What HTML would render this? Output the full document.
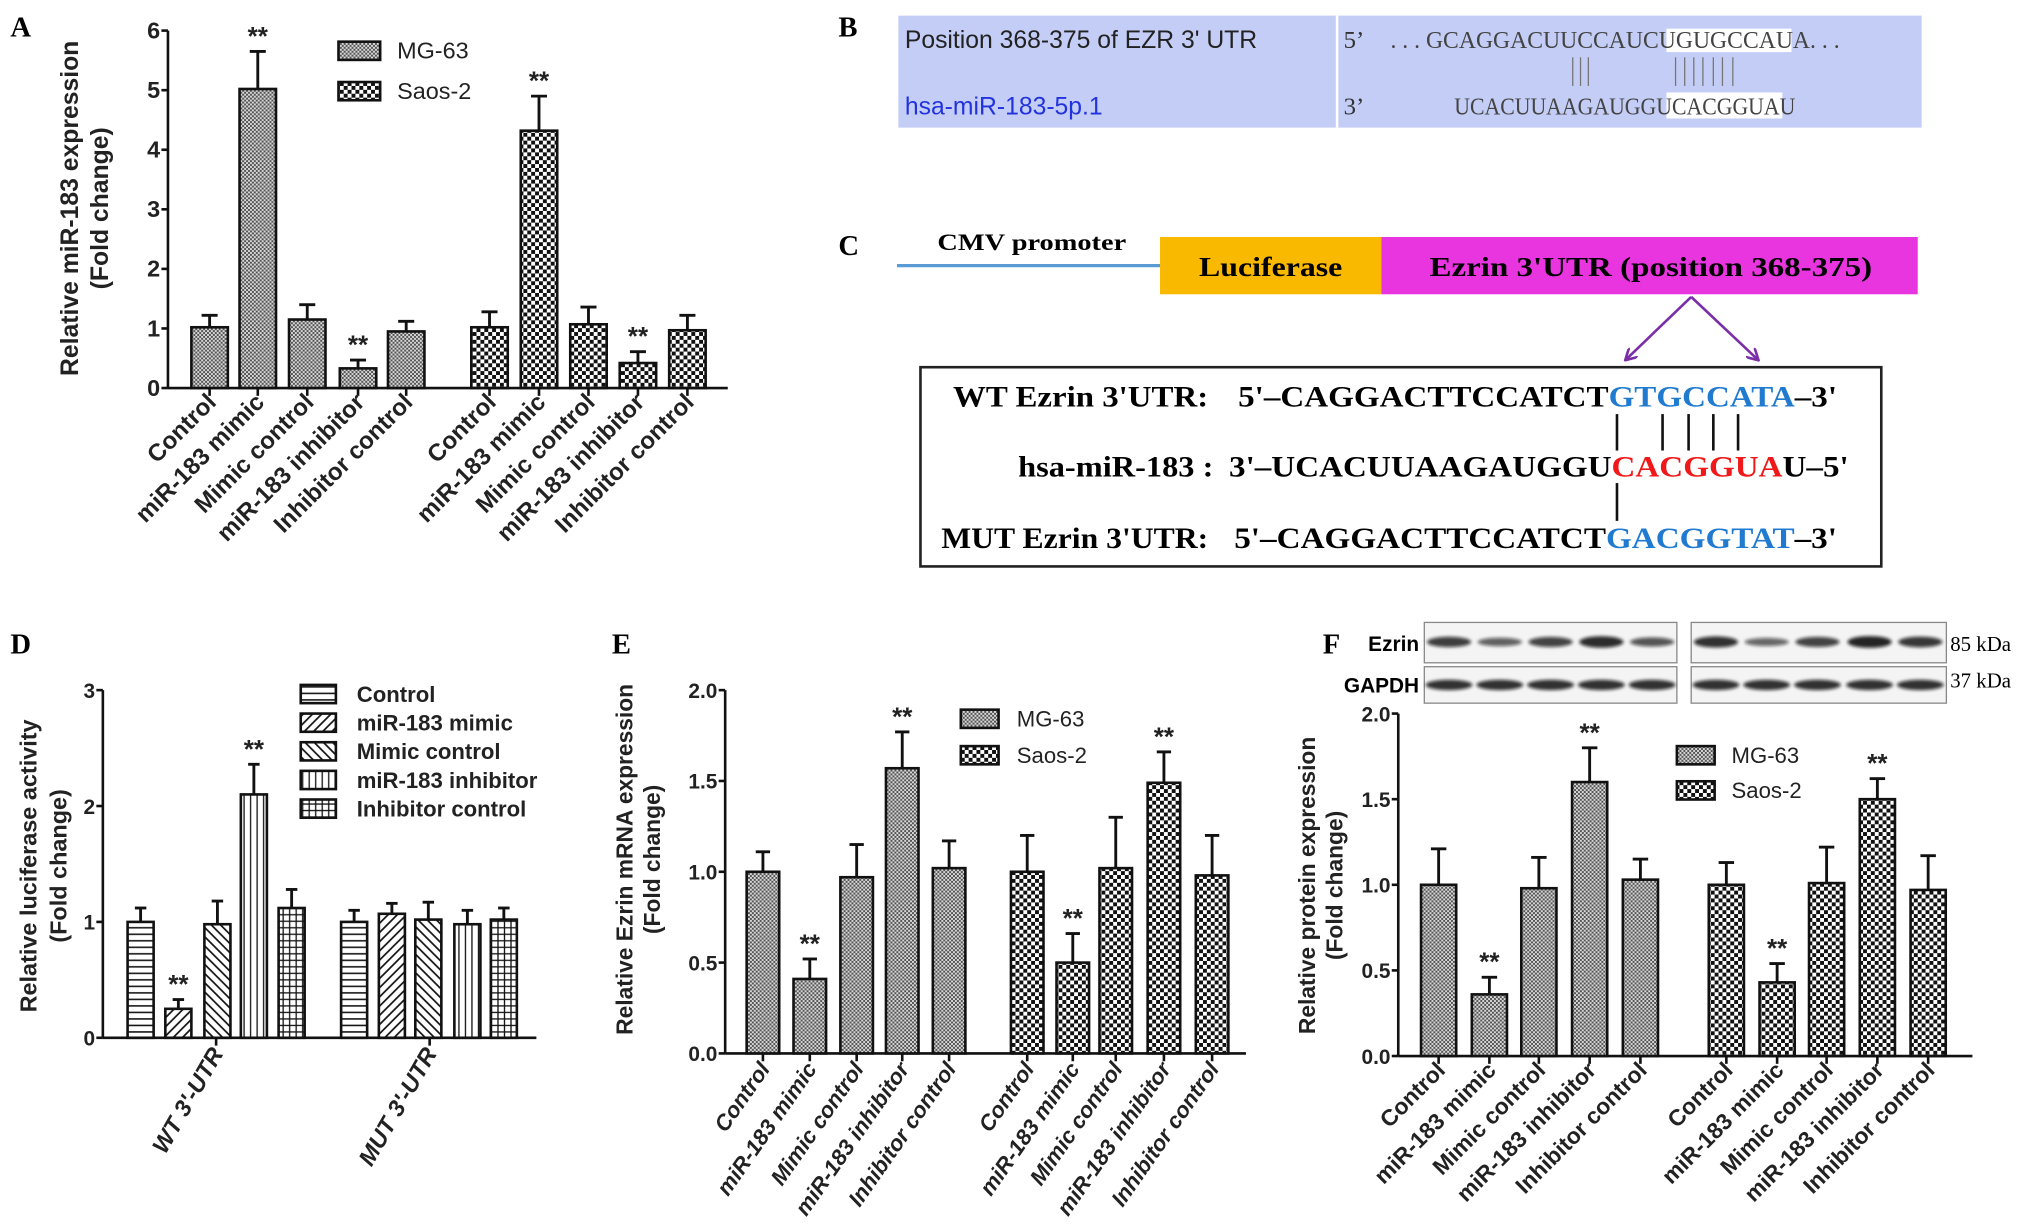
<!DOCTYPE html>
<html><head><meta charset="utf-8">
<style>
html,body{margin:0;padding:0;background:#fff;}
svg{display:block;}
text{font-family:"Liberation Sans",Arial,sans-serif;}
text.serif,.serif text{font-family:"Liberation Serif","Times New Roman",serif;}
</style></head>
<body>
<svg id="fig" width="2031" height="1224" viewBox="0 0 1560 940" preserveAspectRatio="none" xmlns="http://www.w3.org/2000/svg">
<defs>
<pattern id="pMG" width="3" height="3" patternUnits="userSpaceOnUse"><rect width="3" height="3" fill="#d6d6d6"/><rect width="1.5" height="1.5" fill="#555"/><rect x="1.5" y="1.5" width="1.5" height="1.5" fill="#555"/></pattern>
<pattern id="pSaos" width="6" height="6" patternUnits="userSpaceOnUse"><rect width="6" height="6" fill="#fff"/><rect width="3" height="3" fill="#111"/><rect x="3" y="3" width="3" height="3" fill="#111"/></pattern>
<pattern id="pH" width="5" height="5" patternUnits="userSpaceOnUse"><rect width="5" height="5" fill="#fff"/><line x1="0" y1="2.5" x2="5" y2="2.5" stroke="#111" stroke-width="1.2"/></pattern>
<pattern id="pD1" width="5" height="5" patternUnits="userSpaceOnUse" patternTransform="rotate(45)"><rect width="5" height="5" fill="#fff"/><line x1="2.5" y1="0" x2="2.5" y2="5" stroke="#111" stroke-width="1.3"/></pattern>
<pattern id="pD2" width="5" height="5" patternUnits="userSpaceOnUse" patternTransform="rotate(-45)"><rect width="5" height="5" fill="#fff"/><line x1="2.5" y1="0" x2="2.5" y2="5" stroke="#111" stroke-width="1.3"/></pattern>
<pattern id="pV" width="5" height="5" patternUnits="userSpaceOnUse"><rect width="5" height="5" fill="#fff"/><line x1="2.5" y1="0" x2="2.5" y2="5" stroke="#111" stroke-width="1"/></pattern>
<pattern id="pG" width="5" height="5" patternUnits="userSpaceOnUse"><rect width="5" height="5" fill="#fff"/><line x1="0" y1="2.5" x2="5" y2="2.5" stroke="#111" stroke-width="1"/><line x1="2.5" y1="0" x2="2.5" y2="5" stroke="#111" stroke-width="1"/></pattern>
<filter id="blur"><feGaussianBlur stdDeviation="1.2"/></filter>
<marker id="arr" markerWidth="10" markerHeight="10" refX="8" refY="5" orient="auto" markerUnits="userSpaceOnUse"><path d="M0,0 L9,5 L0,10" fill="none" stroke="#7a2fa8" stroke-width="2"/></marker>
</defs>

<text x="8" y="28" class="serif" font-weight="bold" font-size="22">A</text>
<text x="644" y="28" class="serif" font-weight="bold" font-size="22">B</text>
<text x="644" y="196" class="serif" font-weight="bold" font-size="22">C</text>
<text x="8" y="502" class="serif" font-weight="bold" font-size="22">D</text>
<text x="470" y="502" class="serif" font-weight="bold" font-size="22">E</text>
<text x="1016" y="502" class="serif" font-weight="bold" font-size="22">F</text>

<g>
<rect x="690" y="12" width="786" height="86" fill="#c3cdf6"/>
<line x1="1027" y1="12" x2="1027" y2="98" stroke="#fff" stroke-width="2"/>
<text x="695" y="37" font-size="19" fill="#222">Position 368-375 of EZR 3' UTR</text>
<text x="695" y="88" font-size="19" fill="#2233dd">hsa-miR-183-5p.1</text>
<rect x="1280" y="22" width="96" height="18" fill="#fff"/>
<rect x="1280" y="71" width="89" height="20" fill="#fff"/>
<text x="1032" y="37" class="serif" font-size="19" fill="#333">5’</text>
<text x="1068" y="37" class="serif" font-size="19" fill="#444" textLength="345" lengthAdjust="spacingAndGlyphs">. . . GCAGGACUUCCAUCUGUGCCAUA. . .</text>
<text x="1032" y="88" class="serif" font-size="19" fill="#333">3’</text>
<text x="1117" y="88" class="serif" font-size="19" fill="#444" textLength="262" lengthAdjust="spacingAndGlyphs">UCACUUAAGAUGGUCACGGUAU</text>
<g stroke="#777" stroke-width="1">
<line x1="1208" y1="44" x2="1208" y2="66"/><line x1="1214" y1="44" x2="1214" y2="66"/><line x1="1220" y1="44" x2="1220" y2="66"/>
<line x1="1287" y1="44" x2="1287" y2="66"/><line x1="1294" y1="44" x2="1294" y2="66"/><line x1="1301" y1="44" x2="1301" y2="66"/><line x1="1308" y1="44" x2="1308" y2="66"/><line x1="1316" y1="44" x2="1316" y2="66"/><line x1="1323" y1="44" x2="1323" y2="66"/><line x1="1331" y1="44" x2="1331" y2="66"/>
</g>
</g>

<g>
<line x1="689" y1="204" x2="891" y2="204" stroke="#5b9bd5" stroke-width="2.5"/>
<text x="720" y="192" class="serif" font-weight="bold" font-size="18" textLength="145" lengthAdjust="spacingAndGlyphs">CMV promoter</text>
<rect x="891" y="182" width="170" height="44" fill="#f8b900"/>
<text x="976" y="212" class="serif" font-weight="bold" font-size="21" text-anchor="middle" textLength="110" lengthAdjust="spacingAndGlyphs">Luciferase</text>
<rect x="1061" y="182" width="412" height="44" fill="#e935df"/>
<text x="1268" y="212" class="serif" font-weight="bold" font-size="21" text-anchor="middle" textLength="340" lengthAdjust="spacingAndGlyphs">Ezrin 3'UTR (position 368-375)</text>
<line x1="1299" y1="228" x2="1249" y2="276" stroke="#7a2fa8" stroke-width="2" marker-end="url(#arr)"/>
<line x1="1299" y1="228" x2="1350" y2="276" stroke="#7a2fa8" stroke-width="2" marker-end="url(#arr)"/>
<rect x="707" y="282" width="738" height="153" fill="#fff" stroke="#222" stroke-width="2"/>
<g class="serif" font-weight="bold" font-size="23">
<text x="732" y="312" textLength="196" lengthAdjust="spacingAndGlyphs">WT  Ezrin 3'UTR:</text>
<text x="951" y="312" textLength="460" lengthAdjust="spacingAndGlyphs">5'–CAGGACTTCCATCT<tspan fill="#1f7ad0">GTGCCATA</tspan>–3'</text>
<text x="782" y="366" textLength="150" lengthAdjust="spacingAndGlyphs">hsa-miR-183 :</text>
<text x="944" y="366" textLength="476" lengthAdjust="spacingAndGlyphs">3'–UCACUUAAGAUGGU<tspan fill="#f01818">CACGGUA</tspan>U–5'</text>
<text x="723" y="421" textLength="205" lengthAdjust="spacingAndGlyphs">MUT Ezrin 3'UTR:</text>
<text x="948" y="421" textLength="463" lengthAdjust="spacingAndGlyphs">5'–CAGGACTTCCATCT<tspan fill="#1f7ad0">GACGGTAT</tspan>–3'</text>
</g>
<g stroke="#111" stroke-width="2">
<line x1="1242" y1="318" x2="1242" y2="346"/><line x1="1277" y1="318" x2="1277" y2="346"/><line x1="1297" y1="318" x2="1297" y2="346"/><line x1="1316" y1="318" x2="1316" y2="346"/><line x1="1335" y1="318" x2="1335" y2="346"/>
<line x1="1242" y1="371" x2="1242" y2="400"/>
</g>
</g>

<g>
<rect x="1094" y="478" width="194" height="31" fill="#f4f4f4" stroke="#888"/>
<rect x="1299" y="478" width="196" height="31" fill="#f4f4f4" stroke="#888"/>
<rect x="1094" y="512" width="194" height="28" fill="#f4f4f4" stroke="#888"/>
<rect x="1299" y="512" width="196" height="28" fill="#f4f4f4" stroke="#888"/>
<g id="bands" filter="url(#blur)"></g>
<text x="1090" y="500" font-weight="bold" font-size="16" text-anchor="end">Ezrin</text>
<text x="1090" y="532" font-weight="bold" font-size="16" text-anchor="end">GAPDH</text>
<text x="1498" y="500" class="serif" font-size="16">85 kDa</text>
<text x="1498" y="528" class="serif" font-size="16">37 kDa</text>
</g>

<g id="charts"></g>
</svg>

<script>
// ===== Panel A data =====
const aCategories = ["Control","miR-183 mimic","Mimic control","miR-183 inhibitor","Inhibitor control"];
const aMG63 = [1.02, 5.02, 1.15, 0.33, 0.95];
const aMG63Err = [0.2, 0.63, 0.25, 0.14, 0.17];
const aSaos2 = [1.02, 4.32, 1.07, 0.42, 0.97];
const aSaos2Err = [0.26, 0.58, 0.29, 0.19, 0.25];
const aTicks = [0,1,2,3,4,5,6];
const aTickLabels = ["0","1","2","3","4","5","6"];
const aStars = [false,true,false,true,false];
// ===== Panel D data =====
const dGroups = ["WT 3'-UTR","MUT 3'-UTR"];
const dSeries = ["Control","miR-183 mimic","Mimic control","miR-183 inhibitor","Inhibitor control"];
const dWT = [1.0, 0.25, 0.98, 2.1, 1.12];
const dWTErr = [0.12, 0.08, 0.2, 0.26, 0.16];
const dMUT = [1.0, 1.07, 1.02, 0.98, 1.02];
const dMUTErr = [0.1, 0.09, 0.15, 0.12, 0.1];
const dTicks = [0,1,2,3];
const dTickLabels = ["0","1","2","3"];
const dStars = [false,true,false,true,false];
// ===== Panel E data =====
const eMG63 = [1.0, 0.41, 0.97, 1.57, 1.02];
const eMG63Err = [0.11, 0.11, 0.18, 0.2, 0.15];
const eSaos2 = [1.0, 0.5, 1.02, 1.49, 0.98];
const eSaos2Err = [0.2, 0.16, 0.28, 0.17, 0.22];
const eTicks = [0,0.5,1,1.5,2];
const eTickLabels = ["0.0","0.5","1.0","1.5","2.0"];
const eStars = [false,true,false,true,false];
// ===== Panel F data =====
const fMG63 = [1.0, 0.36, 0.98, 1.6, 1.03];
const fMG63Err = [0.21, 0.1, 0.18, 0.2, 0.12];
const fSaos2 = [1.0, 0.43, 1.01, 1.5, 0.97];
const fSaos2Err = [0.13, 0.11, 0.21, 0.12, 0.2];
const fTicks = [0,0.5,1,1.5,2];
const fTickLabels = ["0.0","0.5","1.0","1.5","2.0"];
const fStars = [false,true,false,true,false];
const fEzrinBand = [0.8, 0.5, 0.75, 0.95, 0.6, 0.9, 0.45, 0.75, 1.0, 0.85];

const NS = "http://www.w3.org/2000/svg";
const root = document.getElementById('charts');
function mk(tag, attrs, parent){ const e=document.createElementNS(NS,tag); for(const k in attrs) e.setAttribute(k,attrs[k]); (parent||root).appendChild(e); return e; }

function chart(p){
  const g = mk('g',{});
  
  
  const y = v => p.y0 - (v - p.ticks[0]) / (p.ticks[p.ticks.length-1]-p.ticks[0]) * (p.y0 - p.yTop);
  const ya = mk('line',{x1:p.ax,y1:y(p.ticks[p.ticks.length-1]),x2:p.ax,y2:p.y0,stroke:'#111','stroke-width':2},g);
  
  
  const xa = mk('line',{x1:p.ax,y1:p.y0,x2:p.axEnd,y2:p.y0,stroke:'#111','stroke-width':2},g);
  
  
  p.ticks.forEach((t,i)=>{
    mk('line',{x1:p.ax-5,y1:y(t),x2:p.ax,y2:y(t),stroke:'#111','stroke-width':2},g);
    const tl = mk('text',{x:p.ax-6,y:y(t)+6,'text-anchor':'end','font-size':p.tickFs,'font-weight':'bold',fill:'#222'},g);
    tl.textContent = p.tickLabels[i];
    
    
  });
  const yt = mk('text',{transform:`translate(${p.ytX},${p.ytY}) rotate(-90)`,'text-anchor':'middle','font-size':p.ytFs,'font-weight':'bold',fill:'#222'},g);
  
  
  const t1 = mk('tspan',{x:0,dy:0},yt); t1.textContent = p.ytitle[0];
  const t2 = mk('tspan',{x:0,dy:p.ytGap},yt); t2.textContent = p.ytitle[1];
  p.series.forEach(s=>{
    s.vals.forEach((v,i)=>{
      const cx = s.xs[i], w = p.bw;
      const top = y(v), et = y(v + s.err[i]);
      const el = mk('line',{x1:cx,y1:et,x2:cx,y2:top,stroke:'#111','stroke-width':2.2},g);
      
      
      mk('line',{x1:cx-w*0.22,y1:et,x2:cx+w*0.22,y2:et,stroke:'#111','stroke-width':2.2},g);
      const r = mk('rect',{x:cx-w/2,y:top,width:w,height:p.y0-top,fill:`url(#${s.fills[i]})`,stroke:'#111','stroke-width':2},g);
      
      
      if (s.stars[i]) {
        const st = mk('text',{x:cx,y:et-5,'text-anchor':'middle','font-size':20,'font-weight':'bold',fill:'#222'},g);
        st.textContent = '**';
        
        
      }
    });
  });
  p.xlabels.forEach(l=>{
    mk('line',{x1:l.x,y1:p.y0,x2:l.x,y2:p.y0+6,stroke:'#111','stroke-width':2},g);
    const tx = mk('text',{transform:`translate(${l.x+p.lblDx},${p.y0+p.lblDy}) rotate(${p.rot})`,'text-anchor':'end','font-size':p.lblFs,'font-weight':'bold','font-style':p.italic?'italic':'normal',fill:'#222'},g);
    tx.textContent = l.t;
    
    
  });
  p.legend.forEach(L=>{
    const lb = mk('rect',{x:L.x,y:L.y-7,width:L.w,height:14,fill:`url(#${L.fill})`,stroke:'#111','stroke-width':2},g);
    
    
    const lt = mk('text',{x:L.tx,y:L.y+6,'font-size':p.legFs,'font-weight':p.legBold?'bold':'normal',fill:'#222'},g);
    lt.textContent = L.t;
    
    
  });
}

function twoGroup(mg, mgErr, sa, saErr, stars, xsMG, xsSa){
  return [
    {key:'mg63', vals:mg, err:mgErr, xs:xsMG, fills:mg.map(()=> 'pMG'), stars:stars},
    {key:'saos2', vals:sa, err:saErr, xs:xsSa, fills:sa.map(()=> 'pSaos'), stars:stars}
  ];
}
function lbls(xsA, xsB){ return xsA.map((x,i)=>({x:x,t:aCategories[i]})).concat(xsB.map((x,i)=>({x:x,t:aCategories[i]}))); }

const aXM=[161,198,236,275,312], aXS=[376,414,452,490,528];
chart({name:'panel-a-mir183-chart', ax:129, axEnd:559, y0:298, yTop:23.5, ticks:aTicks, tickLabels:aTickLabels, tickFs:18,
  ytitle:['Relative miR-183 expression','(Fold change)'], ytX:60, ytY:160, ytFs:19, ytGap:23,
  bw:28, series:twoGroup(aMG63,aMG63Err,aSaos2,aSaos2Err,aStars,aXM,aXS),
  xlabels:lbls(aXM,aXS), lblDx:6, lblDy:12, rot:-45, lblFs:18.5, italic:false,
  legend:[{x:260,y:39,w:32,fill:'pMG',tx:305,t:'MG-63'},{x:260,y:70,w:32,fill:'pSaos',tx:305,t:'Saos-2'}], legFs:18});

const dFills=['pH','pD1','pD2','pV','pG'];
const dXW=[108,137,167,195,224], dXM=[272,301,329,359,387];
chart({name:'panel-d-luciferase-chart', ax:79, axEnd:412, y0:797, yTop:530, ticks:dTicks, tickLabels:dTickLabels, tickFs:16,
  ytitle:['Relative luciferase activity','(Fold change)'], ytX:28, ytY:665, ytFs:18, ytGap:23,
  bw:20, series:[
    {key:'wt', vals:dWT, err:dWTErr, xs:dXW, fills:dFills, stars:dStars},
    {key:'mut', vals:dMUT, err:dMUTErr, xs:dXM, fills:dFills, stars:dStars.map(()=>false)}],
  xlabels:[{x:166,t:dGroups[0]},{x:330,t:dGroups[1]}], lblDx:6, lblDy:12, rot:-60, lblFs:18, italic:true,
  legend:dSeries.map((t,i)=>({x:231,y:[533,555,577,599,621][i],w:27,fill:dFills[i],tx:274,t:t})), legFs:17, legBold:true});

const eXM=[586,622,658,693,729], eXS=[789,824,857,894,931];
chart({name:'panel-e-ezrin-mrna-chart', ax:557, axEnd:957, y0:809, yTop:530, ticks:eTicks, tickLabels:eTickLabels, tickFs:16,
  ytitle:['Relative Ezrin mRNA expression','(Fold change)'], ytX:486, ytY:660, ytFs:17.5, ytGap:21,
  bw:25, series:twoGroup(eMG63,eMG63Err,eSaos2,eSaos2Err,eStars,eXM,eXS),
  xlabels:lbls(eXM,eXS), lblDx:6, lblDy:12, rot:-55, lblFs:17, italic:true,
  legend:[{x:738,y:552,w:29,fill:'pMG',tx:781,t:'MG-63'},{x:738,y:580,w:29,fill:'pSaos',tx:781,t:'Saos-2'}], legFs:17});

const fXM=[1105,1144,1182,1221,1260], fXS=[1326,1365,1403,1442,1481];
chart({name:'panel-f-protein-chart', ax:1074, axEnd:1515, y0:811, yTop:548, ticks:fTicks, tickLabels:fTickLabels, tickFs:16,
  ytitle:['Relative protein expression','(Fold change)'], ytX:1010, ytY:680, ytFs:17.5, ytGap:21,
  bw:27, series:twoGroup(fMG63,fMG63Err,fSaos2,fSaos2Err,fStars,fXM,fXS),
  xlabels:lbls(fXM,fXS), lblDx:6, lblDy:12, rot:-45, lblFs:17.5, italic:false,
  legend:[{x:1288,y:580,w:29,fill:'pMG',tx:1330,t:'MG-63'},{x:1288,y:607,w:29,fill:'pSaos',tx:1330,t:'Saos-2'}], legFs:17});

const bands = document.getElementById('bands');
const laneX = [1113,1152,1191,1230,1269,1318,1357,1396,1436,1475];
laneX.forEach((x,i)=>{
  const b = mk('ellipse',{cx:x,cy:493,rx:17,ry:2+fEzrinBand[i]*2.5,fill:'#111','fill-opacity':0.4+fEzrinBand[i]*0.5},bands);
  
  
  const c = mk('ellipse',{cx:x,cy:526,rx:18,ry:4,fill:'#111','fill-opacity':0.85},bands);
  
  
});
</script>
</body></html>
